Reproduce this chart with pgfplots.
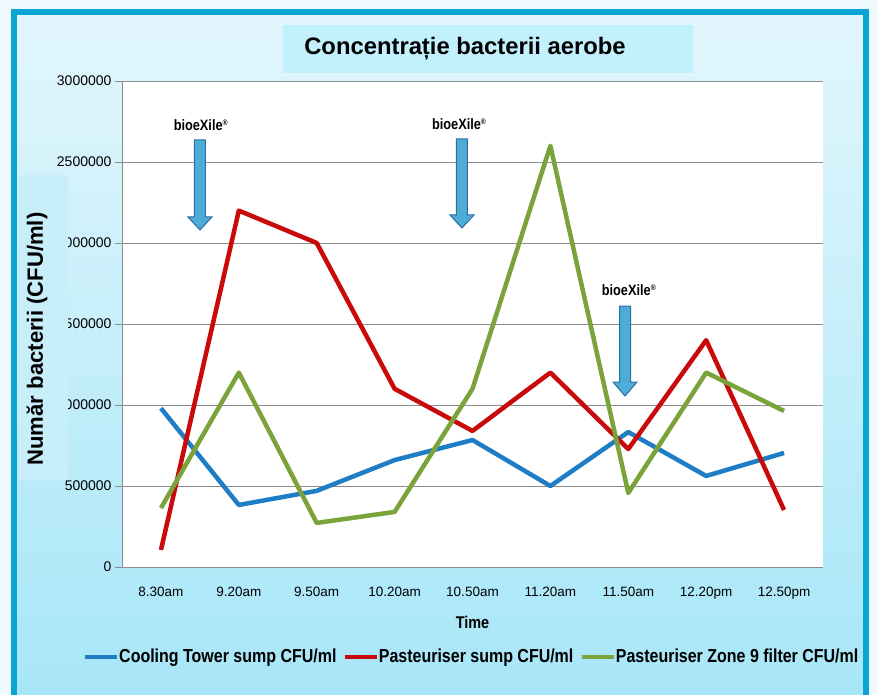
\documentclass[border=0pt]{standalone}
\usepackage{fontspec}
\setmainfont{Liberation Sans}
\newfontfamily\narrow[FakeStretch=0.85]{Liberation Sans}
\usepackage{pgfplots}
\pgfplotsset{compat=1.18}
\definecolor{cblue}{HTML}{1F7DC6}
\definecolor{cred}{HTML}{C80A0A}
\definecolor{cgreen}{HTML}{7BA33C}
\definecolor{frame}{HTML}{0AA6D3}
\definecolor{bgtop}{HTML}{E2F6FC}
\definecolor{bgbot}{HTML}{A6E6F8}
\definecolor{titlebox}{HTML}{C2F0FC}
\definecolor{ylabbox}{HTML}{C8EEF9}
\definecolor{arrowfill}{HTML}{4DADD6}
\definecolor{arrowdraw}{HTML}{2E6CA4}
\definecolor{gridc}{HTML}{8C8C8C}
\begin{document}
\begin{tikzpicture}[x=1pt,y=1pt]
\useasboundingbox (0,0) rectangle (877,694);
\fill[color=bgtop!60!white] (0,0) rectangle (877,694);
\shade[top color=bgtop, bottom color=bgbot] (14,-10) rectangle (866,682);
\draw[frame, line width=6pt] (14,-10) -- (14,682) -- (866,682) -- (866,-10);
% title box
\fill[titlebox] (283,621) rectangle (693,669);
\node[font=\bfseries\fontsize{23.8}{26}\selectfont] at (465,645) {Concentrație bacterii aerobe};
\begin{axis}[
  at={(122pt,127pt)}, anchor=south west,
  scale only axis, width=701pt, height=486pt,
  xmin=-0.5, xmax=8.5, ymin=0, ymax=3000000,
  axis x line*=bottom, axis y line*=left,
  axis line style={gridc, line width=0.8pt},
  axis background/.style={fill=white},
  ytick={0,500000,1000000,1500000,2000000,2500000,3000000},
  ymajorgrids, grid style={gridc, line width=0.8pt},
  scaled y ticks=false,
  yticklabel style={/pgf/number format/fixed, /pgf/number format/1000 sep={}, font=\fontsize{14}{16}\selectfont},
  /pgf/number format/assume math mode=true,
  xtick={0,1,2,3,4,5,6,7,8},
  xticklabels={8.30am,9.20am,9.50am,10.20am,10.50am,11.20am,11.50am,12.20pm,12.50pm},
  xticklabel style={font=\fontsize{13.5}{15}\selectfont, yshift=-10pt},
  x tick style={draw=none},
  minor xtick={-0.5,0.5,1.5,2.5,3.5,4.5,5.5,6.5,7.5,8.5},
  minor x tick style={gridc, line width=0.8pt},
  y tick style={gridc, line width=0.8pt},
  tick align=outside, major tick length=7pt, minor tick length=6pt,
  xlabel={Time}, xlabel style={font=\bfseries\narrow\fontsize{17}{19}\selectfont, yshift=-10pt},
  legend columns=3,
  legend style={at={(-0.0606,-0.185)}, anchor=west, draw=none, fill=none,
    font=\bfseries\narrow\fontsize{18.8}{20}\selectfont,
    /tikz/every even column/.append style={column sep=6pt},
    nodes={inner xsep=0pt}},
  legend image code/.code={\draw[line width=4.5pt] (0pt,0pt) -- (32pt,0pt);},
  every axis plot/.append style={line width=4.5pt, line join=round},
]
\addplot[cblue] coordinates {(0,980000) (1,383000) (2,470000) (3,660000) (4,784000) (5,500000) (6,833000) (7,562000) (8,704000)};
\addplot[cred] coordinates {(0,105000) (1,2200000) (2,2000000) (3,1100000) (4,840000) (5,1200000) (6,728000) (7,1400000) (8,352000)};
\addplot[cgreen] coordinates {(0,364000) (1,1200000) (2,272000) (3,340000) (4,1100000) (5,2600000) (6,457000) (7,1200000) (8,963000)};
\legend{Cooling Tower sump CFU/ml, Pasteuriser sump CFU/ml, Pasteuriser Zone 9 filter CFU/ml}
% bioeXile arrows
\filldraw[fill=arrowfill, draw=arrowdraw, line width=1pt]
  (axis cs:0.501,2636000) ++(-5.5pt,0pt) -- ++(11pt,0pt) -- ++(0pt,-77pt) -- ++(6.5pt,0pt) -- ++(-12pt,-13pt) -- ++(-12pt,13pt) -- ++(6.5pt,0pt) -- cycle;
\filldraw[fill=arrowfill, draw=arrowdraw, line width=1pt]
  (axis cs:3.865,2642000) ++(-5.5pt,0pt) -- ++(11pt,0pt) -- ++(0pt,-76pt) -- ++(6.5pt,0pt) -- ++(-12pt,-13pt) -- ++(-12pt,13pt) -- ++(6.5pt,0pt) -- cycle;
\filldraw[fill=arrowfill, draw=arrowdraw, line width=1pt]
  (axis cs:5.958,1611000) ++(-5.5pt,0pt) -- ++(11pt,0pt) -- ++(0pt,-76pt) -- ++(6.5pt,0pt) -- ++(-12pt,-14pt) -- ++(-12pt,14pt) -- ++(6.5pt,0pt) -- cycle;
\node[font=\bfseries\narrow\fontsize{15}{17}\selectfont] at (axis cs:0.514,2728000) {bioeXile\textsuperscript{\footnotesize ®}};
\node[font=\bfseries\narrow\fontsize{15}{17}\selectfont] at (axis cs:3.83,2735000) {bioeXile\textsuperscript{\footnotesize ®}};
\node[font=\bfseries\narrow\fontsize{15}{17}\selectfont] at (axis cs:6.01,1710000) {bioeXile\textsuperscript{\footnotesize ®}};
\end{axis}
% y label box
\fill[ylabbox] (18,214) rectangle (68,519);
\node[rotate=90, font=\bfseries\fontsize{22.1}{24}\selectfont] at (37,355) {Număr bacterii (CFU/ml)};
\end{tikzpicture}
\end{document}
